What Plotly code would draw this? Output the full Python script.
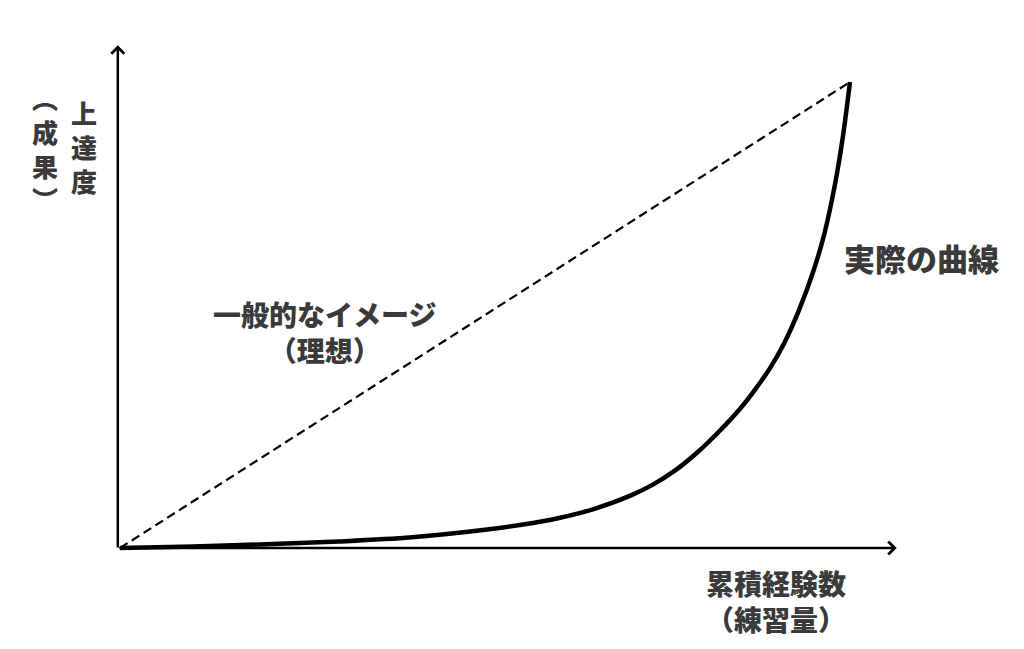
import plotly.graph_objects as go

# ---- data (arbitrary units: 0-100 on both axes) ----
ideal_x = [0, 100]
ideal_y = [0, 100]

actual_x = [0, 10, 20, 30, 40, 50, 55, 60, 65, 70, 73, 76, 79, 82, 85, 87, 89, 91, 93, 95, 96.5, 98, 99, 100]
actual_y = [0, 0.3, 0.8, 1.4, 2.3, 3.9, 5.0, 6.4, 8.4, 11.3, 13.6, 16.6, 20.4, 24.9, 30.0, 34.0, 38.5, 44.0, 51.0, 59.5, 67.5, 78.5, 88.0, 100]

x_axis_end = 106.4
y_axis_end = 107.9

y_title_main = ["上", "達", "度"]
y_title_sub = ["︵", "成", "果", "︶"]
x_title = ["累積経験数", "（練習量）"]
ideal_label = ["一般的なイメージ", "（理想）"]
actual_label = "実際の曲線"

W, H = 1024, 649
OFF = 8  # page body margin
FONT = "Noto Sans CJK JP"
TXT = "#3a3a3a"

fig = go.Figure()
fig.add_trace(go.Scatter(x=ideal_x, y=ideal_y, mode="lines",
                         line=dict(color="black", width=2.2, dash="9px,5px"),
                         hoverinfo="skip"))
fig.add_trace(go.Scatter(x=actual_x, y=actual_y, mode="lines",
                         line=dict(color="black", width=4.5, shape="spline", smoothing=1.0),
                         hoverinfo="skip"))

annotations = []
# axes with arrows
annotations.append(dict(x=x_axis_end, y=0, ax=-0.3, ay=0, xref="x", yref="y", axref="x", ayref="y",
                        text="", showarrow=True, arrowhead=4, arrowsize=1, arrowwidth=2.5, arrowcolor="black",
                        standoff=0, startstandoff=0))
annotations.append(dict(x=-0.3, y=y_axis_end, ax=-0.3, ay=-0.2, xref="x", yref="y", axref="x", ayref="y",
                        text="", showarrow=True, arrowhead=4, arrowsize=1, arrowwidth=2.5, arrowcolor="black",
                        standoff=0, startstandoff=0))


def label(text, px, py, size=30):
    annotations.append(dict(x=(px - OFF) / W, y=1 - (py - OFF) / H, xref="paper", yref="paper", text=text,
                            showarrow=False, xanchor="center", yanchor="middle", align="center",
                            font=dict(family=FONT, size=size, color=TXT, weight=900)))


# vertical y-axis title (one upright character per line)
label("<br>".join(y_title_main), 84, 147, 26)
label("<br>".join(y_title_sub), 45, 148, 26)

label("<br>".join(ideal_label), 324, 332, 28)
label(actual_label, 921, 258, 31)
label("<br>".join(x_title), 776, 601, 28)

ox, oy = 120 - OFF, 548 - OFF
sx, sy = 730 / 100, 466 / 100
x0, x1 = -ox / sx, (W - ox) / sx
y0, y1 = -(H - oy) / sy, oy / sy

fig.update_layout(
    width=W, height=H, margin=dict(l=0, r=0, t=0, b=0),
    paper_bgcolor="white", plot_bgcolor="white", showlegend=False,
    xaxis=dict(range=[x0, x1], visible=False, fixedrange=True),
    yaxis=dict(range=[y0, y1], visible=False, fixedrange=True),
    annotations=annotations,
)

fig.write_html("out.html", config={"displayModeBar": False})
